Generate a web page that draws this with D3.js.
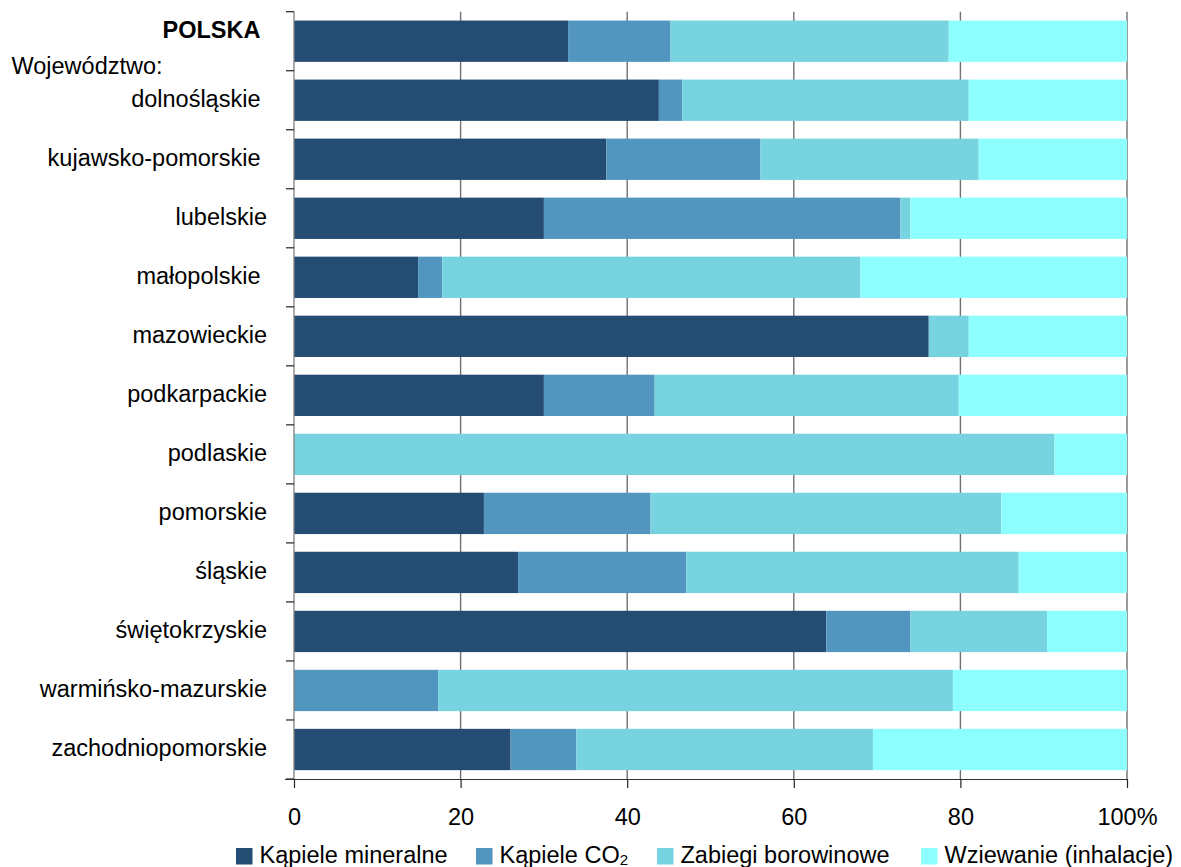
<!DOCTYPE html>
<html>
<head>
<meta charset="utf-8">
<script src="https://cdn.jsdelivr.net/npm/d3@7"></script>
<style>
  html, body { margin: 0; padding: 0; background: #fff; }
  svg { display: block; }
  text { font-family: "Liberation Sans", Arial, sans-serif; fill: #000; }
</style>
</head>
<body>
<svg id="chart" width="1181" height="867"></svg>
<script>
const categories = ["POLSKA", "dolnośląskie", "kujawsko-pomorskie", "lubelskie", "małopolskie",
  "mazowieckie", "podkarpackie", "podlaskie", "pomorskie", "śląskie", "świętokrzyskie",
  "warmińsko-mazurskie", "zachodniopomorskie"];
const seriesNames = ["Kąpiele mineralne", "Kąpiele CO2", "Zabiegi borowinowe", "Wziewanie (inhalacje)"];
const kapieleMineralne   = [32.9, 43.8, 37.5, 30.0, 14.9, 76.2, 30.0, 0.0, 22.8, 26.9, 63.9, 0.0, 26.0];
const kapieleCO2         = [12.3, 2.8, 18.5, 42.8, 2.9, 0.0, 13.3, 0.0, 20.0, 20.2, 10.1, 17.3, 7.9];
const zabiegiBorowinowe  = [33.4, 34.4, 26.2, 1.2, 50.2, 4.8, 36.5, 91.3, 42.1, 39.9, 16.4, 61.8, 35.6];
const wziewanie          = [21.4, 19.0, 17.8, 26.0, 32.0, 19.0, 20.2, 8.7, 15.1, 13.0, 9.6, 20.9, 30.5];
const xTicks = [0, 20, 40, 60, 80, 100];
const xTickLabels = ["0", "20", "40", "60", "80", "100%"];
const colors = ["#254C72", "#5296BF", "#77D3E0", "#8DFFFF"];

const keys = ["m", "c", "b", "w"];
const table = categories.map((c, i) => ({
  cat: c, m: kapieleMineralne[i], c: kapieleCO2[i], b: zabiegiBorowinowe[i], w: wziewanie[i]
}));
const stacked = d3.stack().keys(keys)(table);

const FS = 23.5;
const svg = d3.select("#chart");
const x = d3.scaleLinear().domain([0, 100]).range([294, 1127]);
const y = d3.scaleBand().domain(categories).range([11.7, 779]).paddingInner(0.3).paddingOuter(0.15);

// gridlines
svg.append("g").selectAll("line").data(xTicks.slice(1)).join("line")
  .attr("x1", d => x(d)).attr("x2", d => x(d))
  .attr("y1", 11.7).attr("y2", 779)
  .attr("stroke", "#707070").attr("stroke-width", 1.4);

// bars
svg.append("g").selectAll("g").data(stacked).join("g")
  .attr("fill", (d, i) => colors[i])
  .selectAll("rect").data(d => d).join("rect")
  .attr("x", d => x(d[0]))
  .attr("width", d => Math.max(0, x(d[1]) - x(d[0])))
  .attr("y", d => y(d.data.cat))
  .attr("height", y.bandwidth());

// left axis line and ticks at band boundaries
const boundaries = d3.range(categories.length + 1).map(i => 11.7 + i * y.step());
svg.append("line").attr("x1", 294).attr("x2", 294).attr("y1", 11.7).attr("y2", 779)
  .attr("stroke", "#808080").attr("stroke-width", 1.3);
svg.append("g").selectAll("line").data(boundaries).join("line")
  .attr("x1", 286).attr("x2", 294).attr("y1", d => d).attr("y2", d => d)
  .attr("stroke", "#222").attr("stroke-width", 1.2);

// bottom axis
const xAxis = d3.axisBottom(x).tickValues(xTicks).tickFormat((d, i) => xTickLabels[i])
  .tickSize(9).tickSizeOuter(0);
const gx = svg.append("g").attr("transform", "translate(0,779)").call(xAxis);
gx.select(".domain").attr("stroke", "#333").attr("stroke-width", 1.2)
  .attr("d", "M285,0.5H1127");
gx.selectAll(".tick line").attr("stroke", "#222").attr("stroke-width", 1.2);
gx.selectAll(".tick text").attr("y", 46).attr("dy", 0)
  .attr("font-size", FS).attr("font-family", "Liberation Sans, Arial, sans-serif")
  .attr("fill", "#000");

// category labels
const trailing = new Set(["POLSKA", "dolnośląskie", "kujawsko-pomorskie", "małopolskie"]);
svg.append("g").selectAll("text").data(categories).join("text")
  .attr("x", 267)
  .attr("y", (d, i) => y(d) + y.bandwidth() / 2 + (i === 0 ? -3.5 : 7))
  .attr("text-anchor", "end")
  .attr("font-size", FS)
  .attr("font-weight", (d, i) => i === 0 ? "bold" : "normal")
  .text(d => trailing.has(d) ? d + "\u00a0" : d);

svg.append("text")
  .attr("x", 11.5).attr("y", 74)
  .attr("font-size", FS)
  .text("Województwo:");

// legend
const legendX = [236, 476, 657, 921];
const lg = svg.append("g").selectAll("g").data(seriesNames).join("g")
  .attr("transform", (d, i) => `translate(${legendX[i]},848)`);
lg.append("rect").attr("width", 16.5).attr("height", 16.5).attr("fill", (d, i) => colors[i]);
lg.append("text")
  .attr("x", 23.5).attr("y", 15.3)
  .attr("font-size", FS)
  .each(function (d) {
    const t = d3.select(this);
    if (d.endsWith("CO2")) {
      t.append("tspan").text(d.slice(0, -1));
      t.append("tspan").attr("font-size", 15).attr("dy", 2).text("2");
    } else {
      t.text(d);
    }
  });
</script>
</body>
</html>
